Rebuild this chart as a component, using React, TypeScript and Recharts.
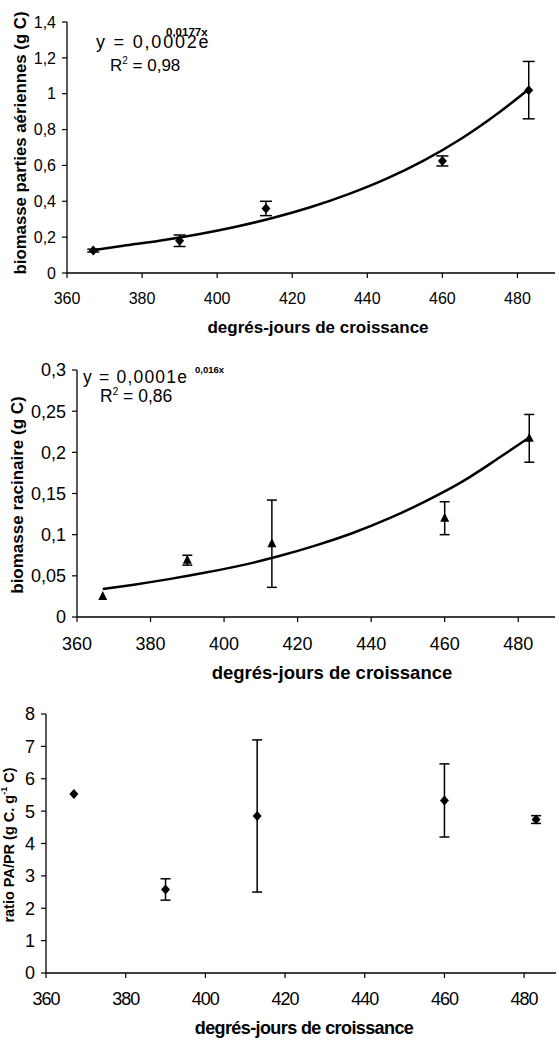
import React from "react";
import { ComposedChart, Line, Scatter, ErrorBar, XAxis, YAxis } from "recharts";

const FONT = '"Liberation Sans", Arial, sans-serif';

// degrés-jours de croissance at each harvest
const days = [367, 390, 413, 460, 483];

// biomasse parties aériennes (g C), mean and error
const paMean = [0.125, 0.18, 0.36, 0.625, 1.02];
const paErr = [0.008, 0.032, 0.04, 0.028, 0.16];

// biomasse racinaire (g C), mean and error
const prMean = [0.025, 0.069, 0.089, 0.12, 0.217];
const prErr = [0, 0.006, 0.053, 0.02, 0.029];

// ratio PA/PR, mean and error
const ratioMean = [5.53, 2.58, 4.85, 5.33, 4.74];
const ratioErr = [0, 0.33, 2.35, 1.13, 0.12];

// exponential trend curves
const fitDays = [367, 375, 385, 395, 405, 415, 425, 435, 445, 455, 465, 475, 483];
const paFit = [0.128, 0.152, 0.181, 0.216, 0.258, 0.308, 0.368, 0.44, 0.525, 0.627, 0.749, 0.894, 1.025];
const prFit = [0.034, 0.039, 0.046, 0.054, 0.063, 0.074, 0.087, 0.102, 0.12, 0.141, 0.165, 0.194, 0.218];

const xTicks = [360, 380, 400, 420, 440, 460, 480];
const paTicks = [0, 0.2, 0.4, 0.6, 0.8, 1, 1.2, 1.4];
const prTicks = [0, 0.05, 0.1, 0.15, 0.2, 0.25, 0.3];
const ratioTicks = [0, 1, 2, 3, 4, 5, 6, 7, 8];

const toPoints = (mean: number[], err: number[]) =>
  days.map((x, i) => ({ x, y: mean[i], err: err[i] }));
const toCurve = (vals: number[]) => fitDays.map((x, i) => ({ x, y: vals[i] }));

const comma = (v: number) => String(v).replace(".", ",");

const Diamond = ({ cx, cy }: any) => (
  <path d={`M${cx},${cy - 5} L${cx + 4.5},${cy} L${cx},${cy + 5} L${cx - 4.5},${cy} Z`} fill="#000" />
);

const Triangle = ({ cx, cy }: any) => (
  <path d={`M${cx},${cy - 5.5} L${cx + 4.5},${cy + 3.5} L${cx - 4.5},${cy + 3.5} Z`} fill="#000" />
);

const xTitle = (cx: number, y: number, size: number, spacing = 0) => () => (
  <text
    x={cx}
    y={y}
    textAnchor="middle"
    fontFamily={FONT}
    fontWeight="bold"
    fontSize={size}
    letterSpacing={spacing}
    fill="#000"
  >
    degrés-jours de croissance
  </text>
);

const yTitle = (x: number, cy: number, size: number, body: React.ReactNode) => () => (
  <text
    transform={`translate(${x},${cy}) rotate(-90)`}
    textAnchor="middle"
    dominantBaseline="central"
    fontFamily={FONT}
    fontWeight="bold"
    fontSize={size}
    fill="#000"
  >
    {body}
  </text>
);

const axisLine = { stroke: "#000", strokeWidth: 1.3 };
const tickLine = { stroke: "#000", strokeWidth: 1.2 };

export default function App() {
  return (
    <div
      style={{
        position: "absolute",
        left: 0,
        top: 0,
        width: 559,
        height: 1040,
        background: "#fff",
        fontFamily: FONT,
      }}
    >
      {/* biomasse parties aériennes */}
      <div style={{ position: "absolute", left: 0, top: 0 }}>
        <ComposedChart width={559} height={340} margin={{ top: 22, right: 4, bottom: 0, left: 0 }}>
          <XAxis
            type="number"
            dataKey="x"
            domain={[360, 490]}
            ticks={xTicks}
            height={67}
            tickSize={5}
            tickMargin={15}
            axisLine={axisLine}
            tickLine={tickLine}
            tick={{ fill: "#000", fontSize: 16, fontFamily: FONT }}
            label={{ content: xTitle(318, 333, 17) }}
          />
          <YAxis
            type="number"
            dataKey="y"
            domain={[0, 1.4]}
            ticks={paTicks}
            width={67}
            tickSize={5}
            tickMargin={6}
            tickFormatter={comma}
            axisLine={axisLine}
            tickLine={tickLine}
            tick={{ fill: "#000", fontSize: 16, fontFamily: FONT }}
            label={{ content: yTitle(20, 143, 16.8, "biomasse parties aériennes (g C)") }}
          />
          <Line
            data={toCurve(paFit)}
            dataKey="y"
            type="monotone"
            stroke="#000"
            strokeWidth={2.5}
            dot={false}
            isAnimationActive={false}
          />
          <Scatter data={toPoints(paMean, paErr)} dataKey="y" shape={Diamond} isAnimationActive={false}>
            <ErrorBar dataKey="err" direction="y" width={6} stroke="#000" strokeWidth={1.5} />
          </Scatter>
          <text x={96} y={48} fontFamily={FONT} fontSize={18} letterSpacing={1.8} fill="#000">
            y = 0,0002e
          </text>
          <text x={166} y={36} fontFamily={FONT} fontSize={11.5} fontWeight="bold" fill="#000">
            0,0177x
          </text>
          <text x={110} y={71} fontFamily={FONT} fontSize={17} fill="#000">
            R<tspan fontSize={10} dy={-7}>2</tspan>
            <tspan dy={7}> = 0,98</tspan>
          </text>
        </ComposedChart>
      </div>

      {/* biomasse racinaire */}
      <div style={{ position: "absolute", left: 0, top: 340 }}>
        <ComposedChart width={559} height={350} margin={{ top: 30, right: 4, bottom: 0, left: 0 }}>
          <XAxis
            type="number"
            dataKey="x"
            domain={[360, 490]}
            ticks={xTicks}
            height={73}
            tickSize={5}
            tickMargin={15}
            axisLine={axisLine}
            tickLine={tickLine}
            tick={{ fill: "#000", fontSize: 18, fontFamily: FONT }}
            label={{ content: xTitle(332, 339, 18.5) }}
          />
          <YAxis
            type="number"
            dataKey="y"
            domain={[0, 0.3]}
            ticks={prTicks}
            width={77}
            tickSize={5}
            tickMargin={6}
            tickFormatter={comma}
            axisLine={axisLine}
            tickLine={tickLine}
            tick={{ fill: "#000", fontSize: 18, fontFamily: FONT }}
            label={{ content: yTitle(17, 155, 17, "biomasse racinaire (g C)") }}
          />
          <Line
            data={toCurve(prFit)}
            dataKey="y"
            type="monotone"
            stroke="#000"
            strokeWidth={2.5}
            dot={false}
            isAnimationActive={false}
          />
          <Scatter data={toPoints(prMean, prErr)} dataKey="y" shape={Triangle} isAnimationActive={false}>
            <ErrorBar dataKey="err" direction="y" width={5} stroke="#000" strokeWidth={1.5} />
          </Scatter>
          <text x={83} y={43} fontFamily={FONT} fontSize={17.5} letterSpacing={1.2} fill="#000">
            y = 0,0001e
          </text>
          <text x={195} y={33} fontFamily={FONT} fontSize={9.5} fontWeight="bold" fill="#000">
            0,016x
          </text>
          <text x={100} y={62} fontFamily={FONT} fontSize={17.5} fill="#000">
            R<tspan fontSize={10} dy={-7}>2</tspan>
            <tspan dy={7}> = 0,86</tspan>
          </text>
        </ComposedChart>
      </div>

      {/* ratio PA/PR */}
      <div style={{ position: "absolute", left: 0, top: 700 }}>
        <ComposedChart width={559} height={340} margin={{ top: 14, right: 3, bottom: 0, left: 0 }}>
          <XAxis
            type="number"
            dataKey="x"
            domain={[360, 488]}
            ticks={xTicks}
            height={67}
            tickSize={5}
            tickMargin={14}
            axisLine={axisLine}
            tickLine={tickLine}
            tick={{ fill: "#000", fontSize: 18, fontFamily: FONT, letterSpacing: -1 }}
            label={{ content: xTitle(304, 334, 18, -0.6) }}
          />
          <YAxis
            type="number"
            dataKey="y"
            domain={[0, 8]}
            ticks={ratioTicks}
            width={46}
            tickSize={5}
            tickMargin={6}
            axisLine={axisLine}
            tickLine={tickLine}
            tick={{ fill: "#000", fontSize: 18, fontFamily: FONT }}
            label={{
              content: yTitle(
                9,
                145,
                14.5,
                <>
                  ratio PA/PR (g C. g<tspan fontSize={9} dy={-5}>-1</tspan>
                  <tspan dy={5}> C)</tspan>
                </>
              ),
            }}
          />
          <Scatter data={toPoints(ratioMean, ratioErr)} dataKey="y" shape={Diamond} isAnimationActive={false}>
            <ErrorBar dataKey="err" direction="y" width={5} stroke="#000" strokeWidth={1.5} />
          </Scatter>
        </ComposedChart>
      </div>
    </div>
  );
}
